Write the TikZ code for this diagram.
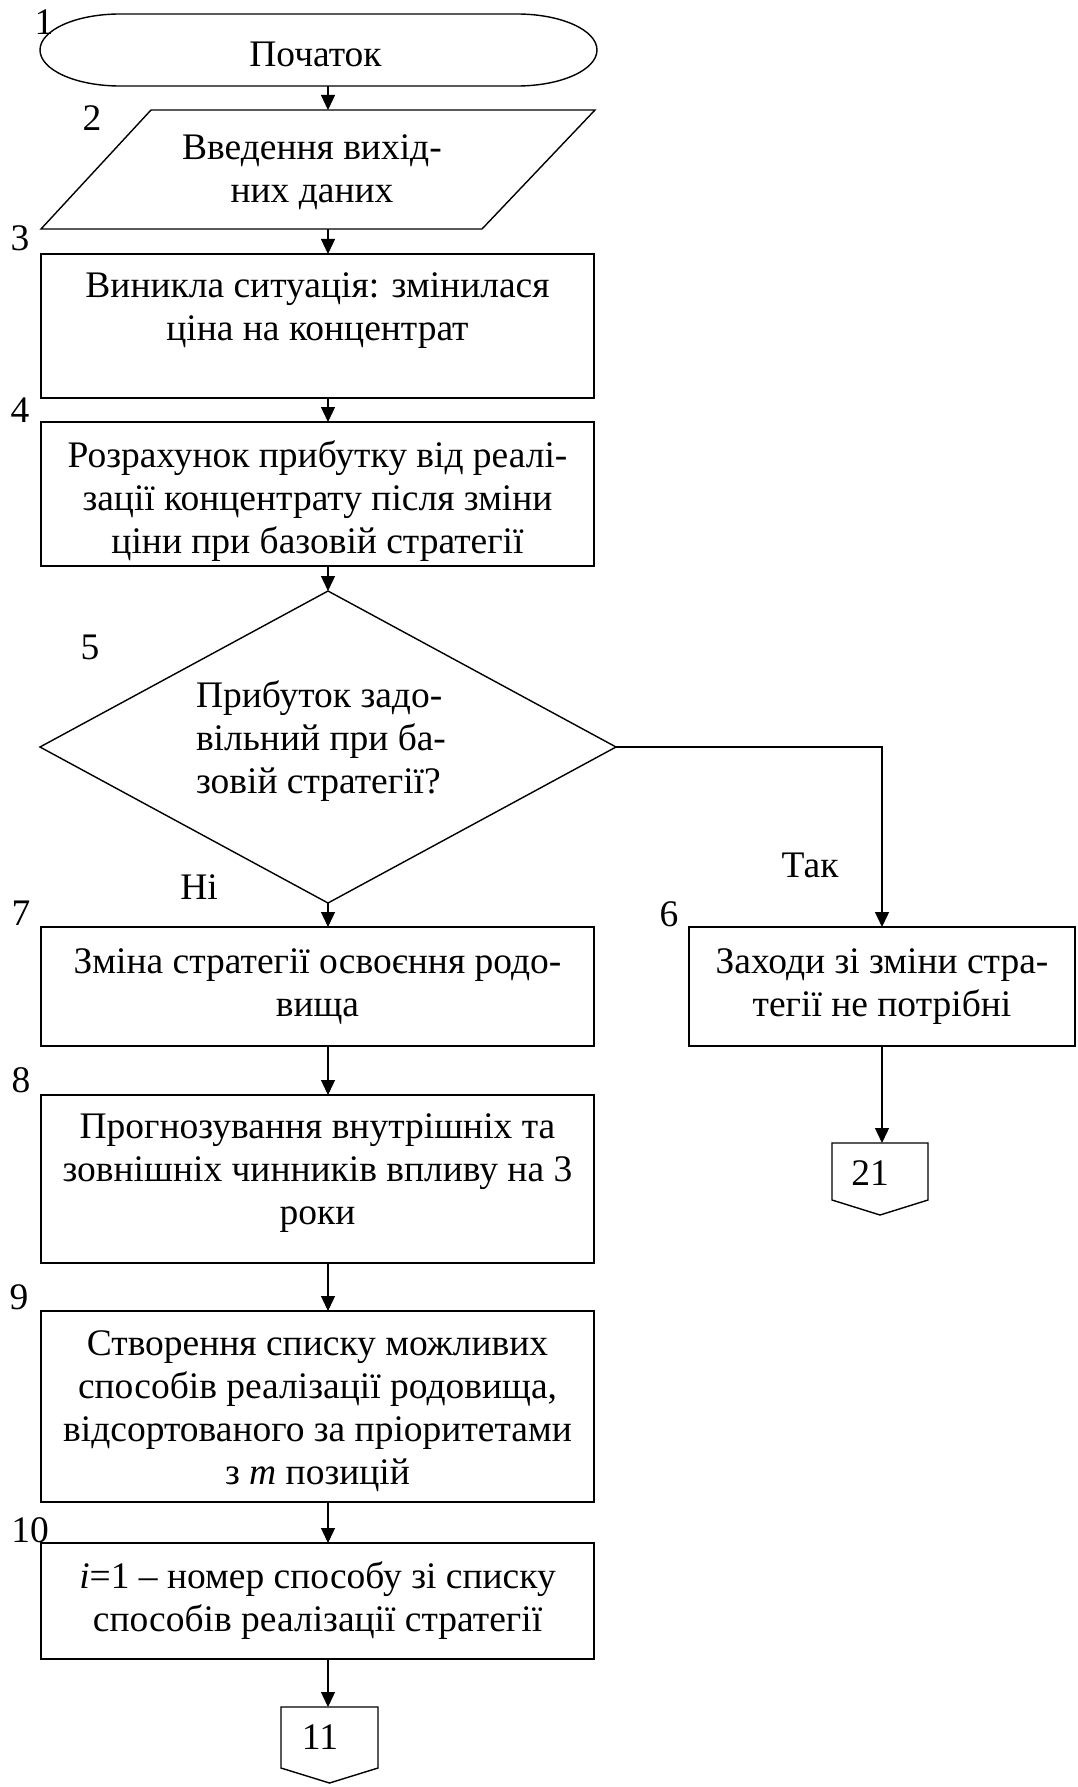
\documentclass[tikz,border=0pt]{standalone}
\usepackage{fontspec}
\setmainfont{Liberation Serif}
\usetikzlibrary{shapes.geometric,arrows.meta}

\begin{document}
\begin{tikzpicture}[x=1pt,y=-1pt,
  every node/.style={font=\fontsize{37.5}{43}\selectfont, inner sep=0pt, outer sep=0pt},
  box/.style={draw, line width=1.9pt, minimum width=553pt, align=center},
  thin/.style={draw, line width=1.4pt},
  txt/.style={align=center},
  arr/.style={line width=1.3pt, -{Triangle[length=15pt,width=14pt]}},
]
\useasboundingbox (0,0) rectangle (1078,1787);
\fill[white] (0,0) rectangle (1078,1787);

% axis of the main column of arrows
\coordinate (ax) at (328,0);

% 1: start terminal (elliptic ends)
\node[minimum width=557pt, minimum height=72pt] (n1) at (318.5,50) {};
\draw[line width=1.4pt] (120,14) -- (517,14)
  arc[start angle=-90, end angle=90, x radius=80, y radius=36]
  -- (120,86)
  arc[start angle=90, end angle=270, x radius=80, y radius=36] -- cycle;
\node (n1t) at (315.5,54) {Початок};

% 2: input data
\node[minimum width=554pt, minimum height=119pt] (n2) at (318,169.5) {};
\draw[line width=1.4pt] (151,110) -- (595,110) -- (482,229) -- (41,229) -- cycle;
\node[txt] (t2) at (312,172) {Введення вихід-\\них даних};

% 3
\node[box, minimum height=144pt] (s3) at (317.5,326) {};
\node[txt] (t3) at (317.5,311) {Виникла ситуація: змінилася\\ціна на концентрат};

% 4
\node[box, minimum height=144pt] (s4) at (317.5,494) {};
\node[txt] (t4) at (317.5,501) {Розрахунок прибутку від реалі-\\зації концентрату після зміни\\ціни при базовій стратегії};

% 5: decision
\node[diamond, thin, minimum width=576pt, minimum height=312pt] (d5) at (328,747) {};
\node[align=left, anchor=west] (t5) at (196,741.5) {Прибуток задо-\\вільний при ба-\\зовій стратегії?};

% 6 and 7
\node[box, minimum height=119pt] (b7) at (317.5,986.5) {Зміна стратегії освоєння родо-\\вища};
\node[box, minimum width=386pt, minimum height=119pt] (b6) at (882,986.5) {Заходи зі зміни стра-\\тегії не потрібні};

% 8, 9, 10
\node[box, minimum height=168pt] (b8) at (317.5,1179) {};
\node[txt] (t8) at (317.5,1173.5) {Прогнозування внутрішніх та\\зовнішніх чинників впливу на 3\\роки};
\node[box, minimum height=191pt] (b9) at (317.5,1406.5) {};
\node[txt] (t9) at (317.5,1411) {Створення списку можливих\\способів реалізації родовища,\\відсортованого за пріоритетами\\з \textit{m} позицій};
\node[box, minimum height=116pt] (b10) at (317.5,1601) {\textit{i}=1 – номер способу зі списку\\способів реалізації стратегії};

% off-page connectors
\node[minimum width=96pt, minimum height=72pt] (c21) at (880,1179) {};
\draw[line width=1.4pt] (c21.north west) -- (c21.north east) -- ([yshift=15pt]c21.south east)
  -- (c21.south) -- ([yshift=15pt]c21.south west) -- cycle;
\node (c21t) at (870,1173) {21};

\node[minimum width=97pt, minimum height=76pt] (c11) at (329.5,1745) {};
\draw[line width=1.4pt] (c11.north west) -- (c11.north east) -- ([yshift=15pt]c11.south east)
  -- (c11.south) -- ([yshift=15pt]c11.south west) -- cycle;
\node (c11t) at (320,1737) {11};

% block numbers
\node (l1) at (44,22) {1};
\node (l2) at (92,118) {2};
\node (l3) at (20,238) {3};
\node (l4) at (20,410) {4};
\node (l5) at (90,647) {5};
\node (l6) at (669,914) {6};
\node (l7) at (21,913) {7};
\node (l8) at (21,1080) {8};
\node (l9) at (19,1297) {9};
\node (l10) at (30,1530) {10};

% branch labels
\node (yes) at (810,865) {Так};
\node (no) at (199,887) {Ні};

% connectors
\draw[arr] (n1.south -| ax) -- (n2.north -| ax);
\draw[arr] (n2.south -| ax) -- (s3.north -| ax);
\draw[arr] (s3.south -| ax) -- (s4.north -| ax);
\draw[arr] (s4.south -| ax) -- (d5.north);
\draw[arr] (d5.south) -- (b7.north -| d5.south);
\draw[line width=1.4pt, -{Triangle[length=15pt,width=14pt]}] (d5.east) -- (d5.east -| b6.north) -- (b6.north);
\draw[arr] (b6.south) -- (c21.north -| b6.south);
\draw[arr] (b7.south -| ax) -- (b8.north -| ax);
\draw[arr] (b8.south -| ax) -- (b9.north -| ax);
\draw[arr] (b9.south -| ax) -- (b10.north -| ax);
\draw[arr] (b10.south -| ax) -- (c11.north -| ax);
\end{tikzpicture}
\end{document}
